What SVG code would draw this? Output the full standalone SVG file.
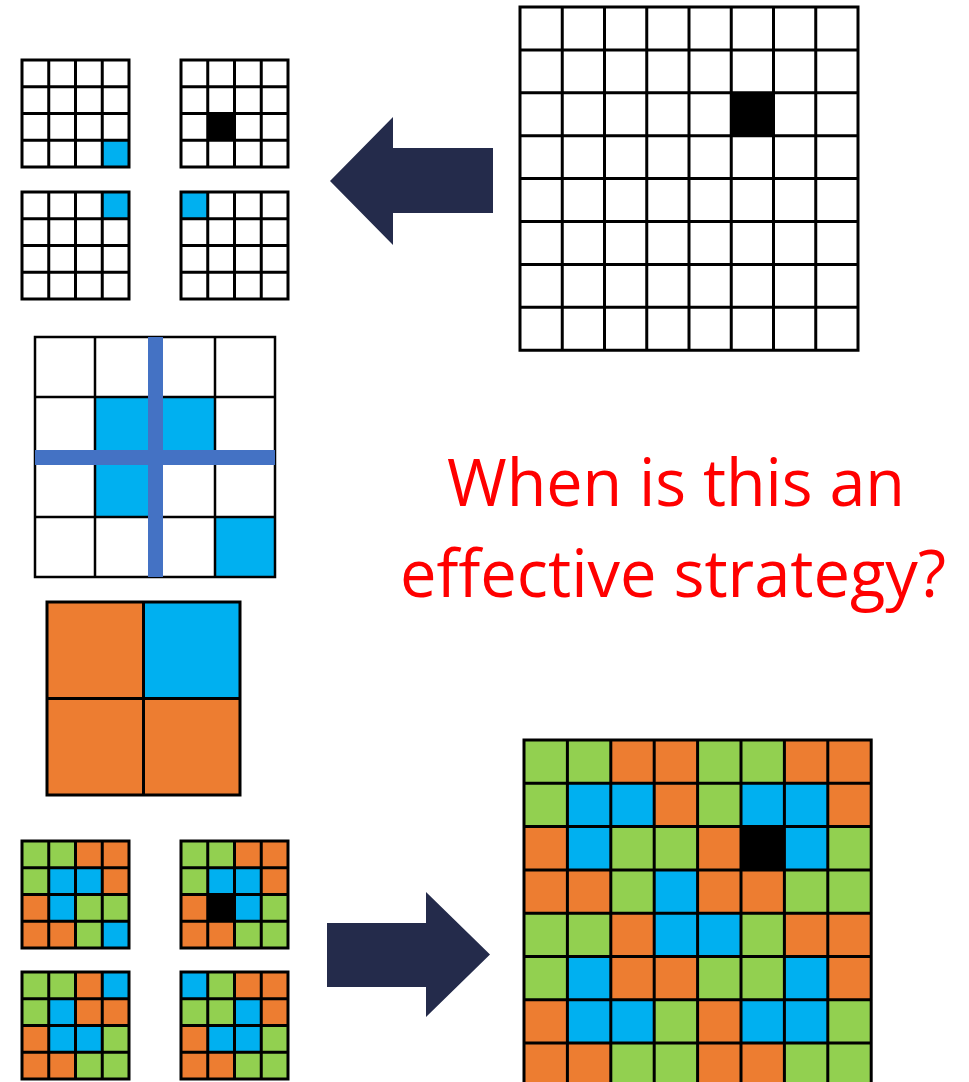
<svg xmlns="http://www.w3.org/2000/svg" xmlns:xlink="http://www.w3.org/1999/xlink" width="969" height="1082" viewBox="0 0 969 1082">
<style>
.g{fill:#92D050}.o{fill:#ED7D31}.b{fill:#00B0F0}.k{fill:#000000}.w{fill:#FFFFFF}
.ln{fill:none;stroke:#000;stroke-width:3;vector-effect:non-scaling-stroke}
.ln2{fill:none;stroke:#000;stroke-width:2.5;vector-effect:non-scaling-stroke}
.arrow{fill:#242B4B}
.cross{fill:#4472C4}
.q{font-family:"Open Sans","Liberation Sans",sans-serif;font-size:66px;fill:#FF0000;text-anchor:middle}
</style>
<defs>
<path id="g4" class="ln" d="M0 0H4V4H0Z M1 0V4 M2 0V4 M3 0V4 M0 1H4 M0 2H4 M0 3H4"/>
<path id="g8" class="ln" d="M0 0H8V8H0Z M1 0V8 M2 0V8 M3 0V8 M4 0V8 M5 0V8 M6 0V8 M7 0V8 M0 1H8 M0 2H8 M0 3H8 M0 4H8 M0 5H8 M0 6H8 M0 7H8"/>
</defs>
<rect width="969" height="1082" fill="#FFFFFF"/>

<g id="big-input" transform="translate(520,7) scale(42.25,42.9)">
<rect class="w" width="8" height="8"/>
<rect class="k" x="5" y="2" width="1" height="1"/>
<use xlink:href="#g8"/>
</g>

<g id="small-top-1" transform="translate(22,60) scale(26.75)">
<rect class="w" width="4" height="4"/>
<rect class="b" x="3" y="3" width="1" height="1"/>
<use xlink:href="#g4"/>
</g>
<g id="small-top-2" transform="translate(181,60) scale(26.75)">
<rect class="w" width="4" height="4"/>
<rect class="k" x="1" y="2" width="1" height="1"/>
<use xlink:href="#g4"/>
</g>
<g id="small-top-3" transform="translate(22,192) scale(26.75)">
<rect class="w" width="4" height="4"/>
<rect class="b" x="3" y="0" width="1" height="1"/>
<use xlink:href="#g4"/>
</g>
<g id="small-top-4" transform="translate(181,192) scale(26.75)">
<rect class="w" width="4" height="4"/>
<rect class="b" x="0" y="0" width="1" height="1"/>
<use xlink:href="#g4"/>
</g>

<g id="mid-grid" transform="translate(35,337) scale(60)">
<rect class="w" width="4" height="4"/>
<rect class="b" x="1" y="1" width="1" height="1"/>
<rect class="b" x="2" y="1" width="1" height="1"/>
<rect class="b" x="1" y="2" width="1" height="1"/>
<rect class="b" x="3" y="3" width="1" height="1"/>
<path class="ln2" d="M0 0H4V4H0Z M1 0V4 M2 0V4 M3 0V4 M0 1H4 M0 2H4 M0 3H4"/>
</g>
<g id="cross">
<rect class="cross" x="148" y="337" width="15" height="240"/>
<rect class="cross" x="35" y="450" width="240" height="15"/>
</g>

<g id="two-by-two" transform="translate(47,602) scale(96.5)">
<rect class="o" x="0" y="0" width="1" height="1"/>
<rect class="b" x="1" y="0" width="1" height="1"/>
<rect class="o" x="0" y="1" width="1" height="1"/>
<rect class="o" x="1" y="1" width="1" height="1"/>
<path class="ln" d="M0 0H2V2H0Z M1 0V2 M0 1H2"/>
</g>

<g id="small-bot-1" transform="translate(22,841) scale(26.75)">
<rect class="g" x="0" y="0" width="1" height="1"/><rect class="g" x="1" y="0" width="1" height="1"/><rect class="o" x="2" y="0" width="1" height="1"/><rect class="o" x="3" y="0" width="1" height="1"/>
<rect class="g" x="0" y="1" width="1" height="1"/><rect class="b" x="1" y="1" width="1" height="1"/><rect class="b" x="2" y="1" width="1" height="1"/><rect class="o" x="3" y="1" width="1" height="1"/>
<rect class="o" x="0" y="2" width="1" height="1"/><rect class="b" x="1" y="2" width="1" height="1"/><rect class="g" x="2" y="2" width="1" height="1"/><rect class="g" x="3" y="2" width="1" height="1"/>
<rect class="o" x="0" y="3" width="1" height="1"/><rect class="o" x="1" y="3" width="1" height="1"/><rect class="g" x="2" y="3" width="1" height="1"/><rect class="b" x="3" y="3" width="1" height="1"/>
<use xlink:href="#g4"/>
</g>
<g id="small-bot-2" transform="translate(181,841) scale(26.75)">
<rect class="g" x="0" y="0" width="1" height="1"/><rect class="g" x="1" y="0" width="1" height="1"/><rect class="o" x="2" y="0" width="1" height="1"/><rect class="o" x="3" y="0" width="1" height="1"/>
<rect class="g" x="0" y="1" width="1" height="1"/><rect class="b" x="1" y="1" width="1" height="1"/><rect class="b" x="2" y="1" width="1" height="1"/><rect class="o" x="3" y="1" width="1" height="1"/>
<rect class="o" x="0" y="2" width="1" height="1"/><rect class="k" x="1" y="2" width="1" height="1"/><rect class="b" x="2" y="2" width="1" height="1"/><rect class="g" x="3" y="2" width="1" height="1"/>
<rect class="o" x="0" y="3" width="1" height="1"/><rect class="o" x="1" y="3" width="1" height="1"/><rect class="g" x="2" y="3" width="1" height="1"/><rect class="g" x="3" y="3" width="1" height="1"/>
<use xlink:href="#g4"/>
</g>
<g id="small-bot-3" transform="translate(22,972) scale(26.75)">
<rect class="g" x="0" y="0" width="1" height="1"/><rect class="g" x="1" y="0" width="1" height="1"/><rect class="o" x="2" y="0" width="1" height="1"/><rect class="b" x="3" y="0" width="1" height="1"/>
<rect class="g" x="0" y="1" width="1" height="1"/><rect class="b" x="1" y="1" width="1" height="1"/><rect class="o" x="2" y="1" width="1" height="1"/><rect class="o" x="3" y="1" width="1" height="1"/>
<rect class="o" x="0" y="2" width="1" height="1"/><rect class="b" x="1" y="2" width="1" height="1"/><rect class="b" x="2" y="2" width="1" height="1"/><rect class="g" x="3" y="2" width="1" height="1"/>
<rect class="o" x="0" y="3" width="1" height="1"/><rect class="o" x="1" y="3" width="1" height="1"/><rect class="g" x="2" y="3" width="1" height="1"/><rect class="g" x="3" y="3" width="1" height="1"/>
<use xlink:href="#g4"/>
</g>
<g id="small-bot-4" transform="translate(181,972) scale(26.75)">
<rect class="b" x="0" y="0" width="1" height="1"/><rect class="g" x="1" y="0" width="1" height="1"/><rect class="o" x="2" y="0" width="1" height="1"/><rect class="o" x="3" y="0" width="1" height="1"/>
<rect class="g" x="0" y="1" width="1" height="1"/><rect class="g" x="1" y="1" width="1" height="1"/><rect class="b" x="2" y="1" width="1" height="1"/><rect class="o" x="3" y="1" width="1" height="1"/>
<rect class="o" x="0" y="2" width="1" height="1"/><rect class="b" x="1" y="2" width="1" height="1"/><rect class="b" x="2" y="2" width="1" height="1"/><rect class="g" x="3" y="2" width="1" height="1"/>
<rect class="o" x="0" y="3" width="1" height="1"/><rect class="o" x="1" y="3" width="1" height="1"/><rect class="g" x="2" y="3" width="1" height="1"/><rect class="g" x="3" y="3" width="1" height="1"/>
<use xlink:href="#g4"/>
</g>

<g id="big-output" transform="translate(524,740) scale(43.4,43.3)">
<rect class="g" x="0" y="0" width="1" height="1"/><rect class="g" x="1" y="0" width="1" height="1"/><rect class="o" x="2" y="0" width="1" height="1"/><rect class="o" x="3" y="0" width="1" height="1"/><rect class="g" x="4" y="0" width="1" height="1"/><rect class="g" x="5" y="0" width="1" height="1"/><rect class="o" x="6" y="0" width="1" height="1"/><rect class="o" x="7" y="0" width="1" height="1"/>
<rect class="g" x="0" y="1" width="1" height="1"/><rect class="b" x="1" y="1" width="1" height="1"/><rect class="b" x="2" y="1" width="1" height="1"/><rect class="o" x="3" y="1" width="1" height="1"/><rect class="g" x="4" y="1" width="1" height="1"/><rect class="b" x="5" y="1" width="1" height="1"/><rect class="b" x="6" y="1" width="1" height="1"/><rect class="o" x="7" y="1" width="1" height="1"/>
<rect class="o" x="0" y="2" width="1" height="1"/><rect class="b" x="1" y="2" width="1" height="1"/><rect class="g" x="2" y="2" width="1" height="1"/><rect class="g" x="3" y="2" width="1" height="1"/><rect class="o" x="4" y="2" width="1" height="1"/><rect class="k" x="5" y="2" width="1" height="1"/><rect class="b" x="6" y="2" width="1" height="1"/><rect class="g" x="7" y="2" width="1" height="1"/>
<rect class="o" x="0" y="3" width="1" height="1"/><rect class="o" x="1" y="3" width="1" height="1"/><rect class="g" x="2" y="3" width="1" height="1"/><rect class="b" x="3" y="3" width="1" height="1"/><rect class="o" x="4" y="3" width="1" height="1"/><rect class="o" x="5" y="3" width="1" height="1"/><rect class="g" x="6" y="3" width="1" height="1"/><rect class="g" x="7" y="3" width="1" height="1"/>
<rect class="g" x="0" y="4" width="1" height="1"/><rect class="g" x="1" y="4" width="1" height="1"/><rect class="o" x="2" y="4" width="1" height="1"/><rect class="b" x="3" y="4" width="1" height="1"/><rect class="b" x="4" y="4" width="1" height="1"/><rect class="g" x="5" y="4" width="1" height="1"/><rect class="o" x="6" y="4" width="1" height="1"/><rect class="o" x="7" y="4" width="1" height="1"/>
<rect class="g" x="0" y="5" width="1" height="1"/><rect class="b" x="1" y="5" width="1" height="1"/><rect class="o" x="2" y="5" width="1" height="1"/><rect class="o" x="3" y="5" width="1" height="1"/><rect class="g" x="4" y="5" width="1" height="1"/><rect class="g" x="5" y="5" width="1" height="1"/><rect class="b" x="6" y="5" width="1" height="1"/><rect class="o" x="7" y="5" width="1" height="1"/>
<rect class="o" x="0" y="6" width="1" height="1"/><rect class="b" x="1" y="6" width="1" height="1"/><rect class="b" x="2" y="6" width="1" height="1"/><rect class="g" x="3" y="6" width="1" height="1"/><rect class="o" x="4" y="6" width="1" height="1"/><rect class="b" x="5" y="6" width="1" height="1"/><rect class="b" x="6" y="6" width="1" height="1"/><rect class="g" x="7" y="6" width="1" height="1"/>
<rect class="o" x="0" y="7" width="1" height="1"/><rect class="o" x="1" y="7" width="1" height="1"/><rect class="g" x="2" y="7" width="1" height="1"/><rect class="g" x="3" y="7" width="1" height="1"/><rect class="o" x="4" y="7" width="1" height="1"/><rect class="o" x="5" y="7" width="1" height="1"/><rect class="g" x="6" y="7" width="1" height="1"/><rect class="g" x="7" y="7" width="1" height="1"/>
<use xlink:href="#g8"/>
</g>

<g id="connectors">
<polygon class="arrow" points="330,181 393,117 393,148 493,148 493,213 393,213 393,245"/>
<polygon class="arrow" points="327,923 426,923 426,892 490,954.5 426,1017 426,987 327,987"/>
</g>

<g id="question">
<text class="q" x="676" y="506" textLength="458" lengthAdjust="spacingAndGlyphs">When is this an</text>
<text class="q" x="673" y="597" textLength="546" lengthAdjust="spacingAndGlyphs">effective strategy?</text>
</g>
</svg>
